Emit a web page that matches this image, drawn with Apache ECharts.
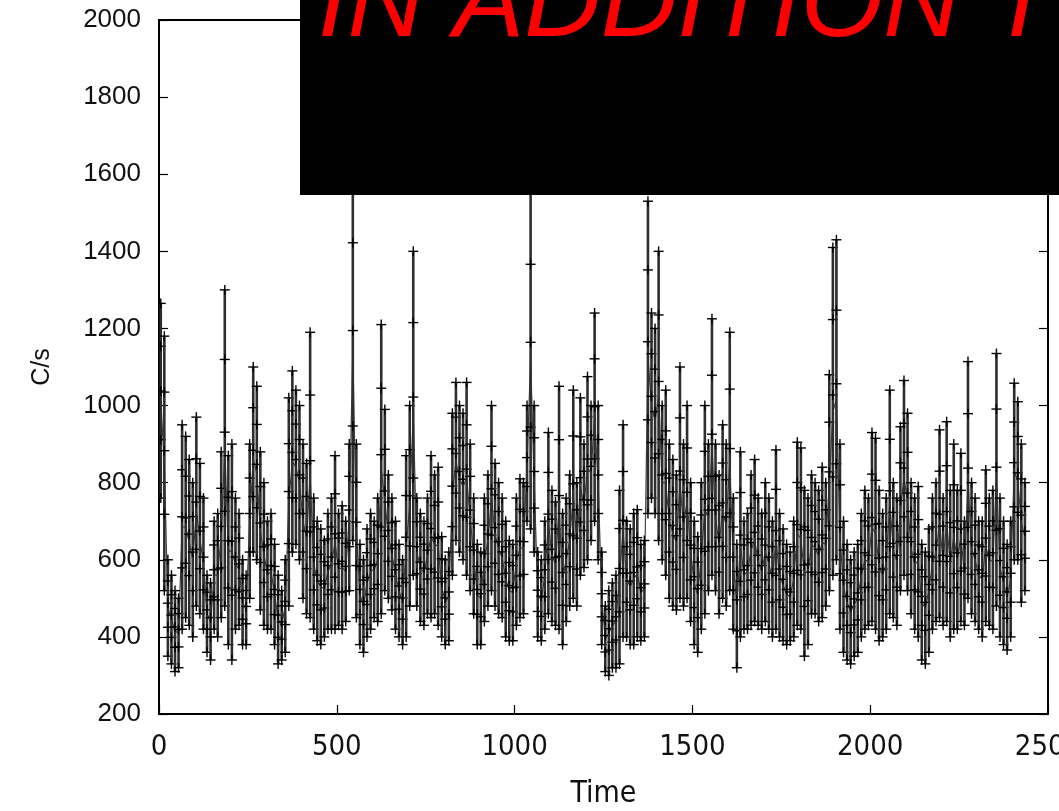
<!DOCTYPE html>
<html>
<head>
<meta charset="utf-8">
<script src="https://cdn.jsdelivr.net/npm/echarts@6/dist/echarts.min.js"></script>
<style>
  html, body { margin: 0; padding: 0; background: #fff; }
  #chart { width: 1059px; height: 811px; }
</style>
</head>
<body>
<div id="chart"></div>
<script>
// Light curve (count rate), summarised in 10 s bins.
const binSize = 10;                // seconds per bin
const xTicks = [0, 500, 1000, 1500, 2000, 2500];
const yTicks = [200, 400, 600, 800, 1000, 1200, 1400, 1600, 1800, 2000];
const xTitle = 'Time';
const yTitle = 'C/s';
const bannerText = 'IN ADDITION T';

// upper envelope of the points (incl. error bars) in each bin
const upper = [
  1265,1180,600,560,520,500,950,920,860,800,
  970,850,760,560,540,700,720,880,1300,870,
  900,760,720,600,560,900,1100,1050,880,800,
  700,720,640,560,520,600,1020,1090,1040,1000,
  900,850,1190,760,700,680,650,720,760,870,
  720,740,700,900,1640,900,640,600,680,720,
  700,760,1210,990,820,760,700,640,600,870,
  1000,1400,760,720,700,760,870,820,840,660,
  600,620,980,1060,1000,980,1060,900,760,640,
  620,760,820,1000,850,800,760,700,650,640,
  760,810,800,1000,1560,1000,620,600,700,930,
  780,750,1050,720,760,820,1040,800,1020,900,
  1075,1000,1240,1000,620,480,520,540,560,780,
  950,700,680,720,730,640,650,1530,1240,1200,
  1400,1000,1040,900,860,820,1100,900,1000,800,
  700,660,800,1000,900,1225,900,820,950,900,
  1190,760,640,880,700,720,820,860,760,720,
  800,760,700,885,720,680,640,620,700,905,
  890,780,760,820,800,780,840,800,1080,1410,
  1430,900,700,640,600,620,640,720,780,760,
  930,915,780,720,760,1040,800,760,945,1065,
  980,800,760,790,640,620,680,760,800,937,
  760,958,780,900,780,876,700,1114,800,760,
  700,700,833,760,780,1135,760,700,640,700,
  1058,1010,900,800
];
// lower envelope in each bin
const lower = [
  760,520,350,330,310,320,420,450,430,400,
  480,460,420,360,340,420,400,450,480,380,
  340,420,430,380,380,500,620,600,470,430,
  420,420,380,330,340,360,480,620,640,600,
  500,460,450,420,390,380,400,420,420,420,
  430,420,440,520,650,450,380,360,400,420,
  450,440,460,520,500,470,420,400,380,400,
  480,560,480,440,430,460,450,460,430,400,
  380,390,560,650,620,600,560,520,460,380,
  380,440,480,520,480,460,450,400,390,390,
  430,450,460,700,680,620,400,390,420,460,
  440,430,420,380,440,480,500,480,560,580,
  600,650,700,600,380,310,300,320,320,330,
  400,400,380,380,400,390,400,720,760,720,
  650,600,560,500,480,470,500,480,500,440,
  380,360,420,460,520,560,520,460,500,480,
  520,420,320,400,420,420,430,440,430,420,
  440,420,400,420,400,390,380,390,400,430,
  420,350,380,460,460,440,450,480,520,560,
  600,420,360,340,330,350,360,400,420,430,
  440,420,390,400,420,460,450,430,520,560,
  520,460,420,400,340,330,360,420,440,450,
  430,440,400,420,420,440,430,500,460,440,
  420,400,440,430,420,480,400,380,366,400,
  600,600,490,520
];

const rows = upper.map((hi, i) => {
  const t = i * binSize + binSize / 2;
  return [t, hi, lower[i], (hi + lower[i]) / 2];
});

const chart = echarts.init(document.getElementById('chart'), null, { renderer: 'canvas' });

function plusShape(x, y, half) {
  return [
    { type: 'line', shape: { x1: x - half, y1: y, x2: x + half, y2: y }, style: { stroke: '#000', lineWidth: 1.4 } },
    { type: 'line', shape: { x1: x, y1: y - half, x2: x, y2: y + half }, style: { stroke: '#000', lineWidth: 1.4 } }
  ];
}

const axisCommon = {
  axisLine: { show: true, lineStyle: { color: '#000', width: 2 } },
  axisTick: { show: true, inside: true, length: 9, lineStyle: { color: '#000', width: 1.2 } },
  splitLine: { show: false }
};
const plain = v => String(v);

chart.setOption({
  animation: false,
  backgroundColor: '#fff',
  grid: {
    left: 159, right: 11, top: 20, bottom: 97,
    containLabel: false, outerBoundsMode: 'none',
    show: true, borderColor: '#000', borderWidth: 2, backgroundColor: 'transparent'
  },
  xAxis: [{
    type: 'value', min: xTicks[0], max: xTicks[xTicks.length - 1], interval: 500,
    ...axisCommon,
    axisLabel: { color: '#111', formatter: plain, fontFamily: 'Liberation Sans Narrow, DejaVu Sans Condensed, sans-serif', fontSize: 29, margin: 19 },
    name: xTitle, nameLocation: 'middle', nameGap: 65,
    nameTextStyle: { color: '#111', fontFamily: 'Liberation Sans Narrow, DejaVu Sans Condensed, sans-serif', fontSize: 30 }
  }],
  yAxis: [{
    type: 'value', min: yTicks[0], max: yTicks[yTicks.length - 1], interval: 200, position: 'left',
    ...axisCommon,
    axisLabel: { color: '#111', formatter: plain, fontFamily: 'Liberation Sans, sans-serif', fontSize: 26, margin: 18 },
    name: yTitle, nameLocation: 'middle', nameGap: 104, nameRotate: 90,
    nameTextStyle: { color: '#111', fontFamily: 'Liberation Sans, sans-serif', fontSize: 25 }
  }, {
    type: 'value', min: yTicks[0], max: yTicks[yTicks.length - 1], interval: 200, position: 'right',
    ...axisCommon,
    axisLabel: { show: false }
  }],
  series: [{
    type: 'line',
    data: rows.map(r => [r[0], r[3]]),
    showSymbol: false,
    lineStyle: { color: '#444', width: 1.2 },
    z: 2
  }, {
    type: 'custom',
    data: rows,
    clip: true,
    z: 3,
    renderItem: function (params, api) {
      const t = api.value(0);
      const pHi = api.coord([t, api.value(1)]);
      const pLo = api.coord([t, api.value(2)]);
      const children = [
        { type: 'line', shape: { x1: pHi[0], y1: pHi[1], x2: pLo[0], y2: pLo[1] }, style: { stroke: '#2e2e2e', lineWidth: 2.6 } }
      ];
      [0, 0.22, 0.45, 0.7, 1].forEach(f => {
        const y = pHi[1] + (pLo[1] - pHi[1]) * f;
        children.push(...plusShape(pHi[0], y, 5));
      });
      return { type: 'group', children };
    }
  }],
  graphic: [{
    type: 'rect', left: 300, top: 0, z: 100,
    shape: { width: 759, height: 195 },
    style: { fill: '#000' }
  }, {
    type: 'text', z: 101, x: 318, y: 7,
    style: {
      text: bannerText, fill: '#ff0000',
      font: 'italic 106px "Liberation Sans", Arial, sans-serif',
      verticalAlign: 'middle'
    }
  }]
});
</script>
</body>
</html>
